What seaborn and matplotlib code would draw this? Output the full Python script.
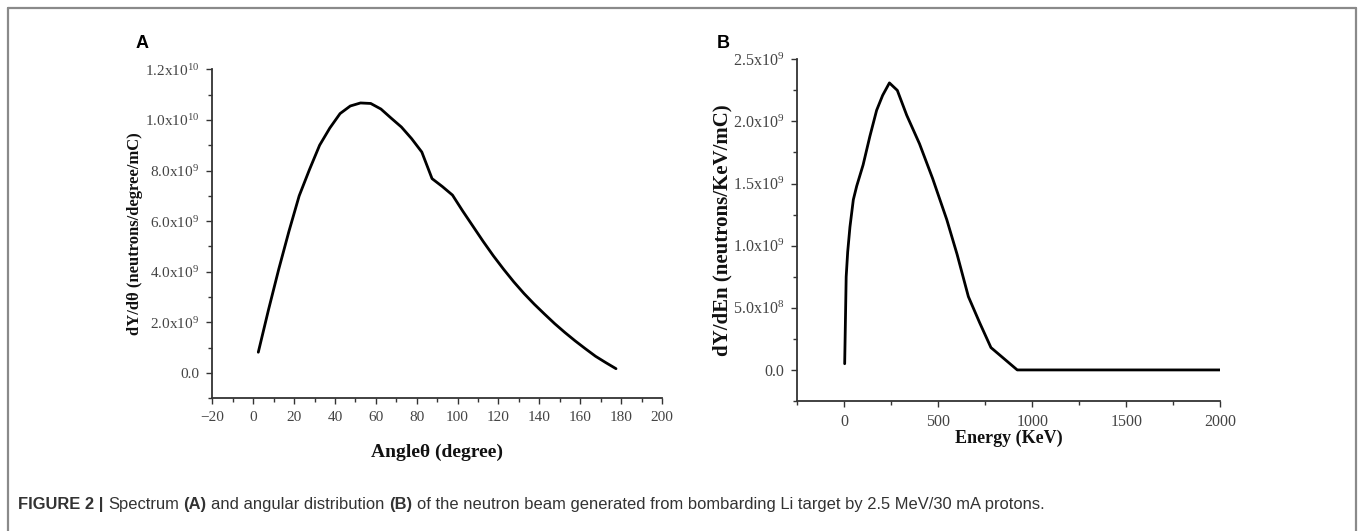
import numpy as np
import pandas as pd
import matplotlib
matplotlib.use("Agg")
import matplotlib.pyplot as plt
import seaborn as sns
from matplotlib import font_manager
from matplotlib.ticker import FixedLocator, MultipleLocator

# ---------------- data ----------------
angle_deg = [2.5, 7.5, 12.5, 17.5, 22.5, 27.5, 32.5, 37.5, 42.5, 47.5, 52.5, 57.5,
             62.5, 67.5, 72.5, 77.5, 82.5, 87.5, 92.5, 97.5, 102.5, 107.5, 112.5,
             117.5, 122.5, 127.5, 132.5, 137.5, 142.5, 147.5, 152.5, 157.5, 162.5,
             167.5, 172.5, 177.5]
angle_yield = [0.82e9, 2.5e9, 4.1e9, 5.6e9, 7.0e9, 8.03e9, 9.0e9, 9.68e9, 10.25e9,
               10.55e9, 10.67e9, 10.65e9, 10.43e9, 10.07e9, 9.72e9, 9.26e9, 8.73e9,
               7.68e9, 7.37e9, 7.03e9, 6.40e9, 5.80e9, 5.20e9, 4.63e9, 4.10e9,
               3.60e9, 3.14e9, 2.72e9, 2.33e9, 1.95e9, 1.60e9, 1.27e9, 0.96e9,
               0.66e9, 0.41e9, 0.17e9]

energy_kev = [2, 10, 18, 30, 48, 66, 100, 136, 172, 204, 240, 282, 332, 400, 470,
              545, 600, 660, 720, 780, 920, 1000, 1500, 2000]
energy_yield = [0.05e9, 0.75e9, 0.95e9, 1.15e9, 1.37e9, 1.48e9, 1.65e9, 1.88e9,
                2.09e9, 2.21e9, 2.31e9, 2.25e9, 2.05e9, 1.82e9, 1.54e9, 1.21e9,
                0.93e9, 0.59e9, 0.38e9, 0.18e9, 0.0, 0.0, 0.0, 0.0]

a_xticks = [-20, 0, 20, 40, 60, 80, 100, 120, 140, 160, 180, 200]
a_yticks = [0.0, 2e9, 4e9, 6e9, 8e9, 1e10, 1.2e10]
a_yticklabels = ["0.0", r"2.0x10$^{9}$", r"4.0x10$^{9}$", r"6.0x10$^{9}$",
                 r"8.0x10$^{9}$", r"1.0x10$^{10}$", r"1.2x10$^{10}$"]
b_xticks = [0, 500, 1000, 1500, 2000]
b_yticks = [0.0, 5e8, 1e9, 1.5e9, 2e9, 2.5e9]
b_yticklabels = ["0.0", r"5.0x10$^{8}$", r"1.0x10$^{9}$", r"1.5x10$^{9}$",
                 r"2.0x10$^{9}$", r"2.5x10$^{9}$"]

caption_parts = [("FIGURE 2 |", "bold"), ("Spectrum", "normal"), ("(A)", "bold"),
                 ("and angular distribution", "normal"), ("(B)", "bold"),
                 ("of the neutron beam generated from bombarding Li target by 2.5 MeV/30 mA protons.", "normal")]

# ---------------- style ----------------
sns.set_theme(style="ticks")
names = {f.name for f in font_manager.fontManager.ttflist}
serif = "Liberation Serif" if "Liberation Serif" in names else "DejaVu Serif"
cap_font = "Liberation Sans Narrow" if "Liberation Sans Narrow" in names else "Liberation Sans"
plt.rcParams["font.family"] = [serif, "DejaVu Sans"]
plt.rcParams["mathtext.fontset"] = "custom"
plt.rcParams["mathtext.rm"] = serif
plt.rcParams["mathtext.it"] = serif + ":italic"
plt.rcParams["mathtext.bf"] = serif + ":bold"

W, H = 1360, 531
fig = plt.figure(figsize=(W / 100, H / 100), dpi=100)
fig.patch.set_facecolor("white")

def px_axes(l, t, r, b):
    return fig.add_axes([l / W, 1 - b / H, (r - l) / W, (b - t) / H])

axA = px_axes(212.3, 69.3, 662.0, 398.3)
axB = px_axes(797.3, 59.3, 1220.3, 401.0)

dfA = pd.DataFrame({"angle": angle_deg, "y": angle_yield})
dfB = pd.DataFrame({"energy": energy_kev, "y": energy_yield})
sns.lineplot(data=dfA, x="angle", y="y", ax=axA, color="black", lw=2.0, sort=False)
sns.lineplot(data=dfB, x="energy", y="y", ax=axB, color="black", lw=2.0, sort=False)

spine_col = "#333333"
tick_col = "#444444"
for ax, ls in ((axA, 11), (axB, 11.5)):
    sns.despine(ax=ax)
    for s in ("left", "bottom"):
        ax.spines[s].set_color(spine_col)
        ax.spines[s].set_linewidth(1.3)
    ax.tick_params(which="major", direction="out", length=4.5, width=1.0,
                   color=spine_col, labelsize=ls, labelcolor=tick_col, pad=5)
    ax.tick_params(which="minor", direction="out", length=3, width=1.0, color=spine_col)
    ax.set_facecolor("white")
    ax.grid(False)

axA.set_xlim(-20, 200)
axA.set_ylim(-1e9, 1.2e10)
axA.xaxis.set_major_locator(FixedLocator(a_xticks))
axA.set_xticklabels([str(t) if t >= 0 else "\u221220" for t in a_xticks])
axA.xaxis.set_minor_locator(MultipleLocator(10))
axA.yaxis.set_major_locator(FixedLocator(a_yticks))
axA.set_yticklabels(a_yticklabels)
axA.yaxis.set_minor_locator(MultipleLocator(1e9))

axB.set_xlim(-250, 2000)
axB.set_ylim(-2.5e8, 2.5e9)
axB.xaxis.set_major_locator(FixedLocator(b_xticks))
axB.set_xticklabels([str(t) for t in b_xticks])
axB.xaxis.set_minor_locator(MultipleLocator(250))
axB.yaxis.set_major_locator(FixedLocator(b_yticks))
axB.set_yticklabels(b_yticklabels)
axB.yaxis.set_minor_locator(MultipleLocator(2.5e8))

lab_kw = dict(fontweight="bold", color="#111111")
axA.set_xlabel("Angle\u03b8 (degree)", fontsize=14, **lab_kw)
axA.set_ylabel("dY/d\u03b8 (neutrons/degree/mC)", fontsize=12, **lab_kw)
axB.set_xlabel("Energy (KeV)", fontsize=13, **lab_kw)
axB.set_ylabel("dY/dEn (neutrons/KeV/mC)", fontsize=15, **lab_kw)
for ax in (axA, axB):
    ax.xaxis.label.set_va("center")
    ax.yaxis.label.set_va("center")
axA.xaxis.set_label_coords(0.5, -0.163)
axA.yaxis.set_label_coords(-0.172, 0.5)
axB.xaxis.set_label_coords(0.5, -0.108)
axB.yaxis.set_label_coords(-0.178, 0.5)

# panel letters
fig.text(136 / W, 1 - 43.5 / H, "A", fontsize=13, fontweight="bold",
         family="Liberation Sans", va="center", ha="left", color="black")
fig.text(717 / W, 1 - 43.5 / H, "B", fontsize=13, fontweight="bold",
         family="Liberation Sans", va="center", ha="left", color="black")

# frame (open at the bottom)
frame_col = "#8a8a8a"
fig.add_artist(plt.Line2D([7.5 / W, 7.5 / W], [0, 1 - 8 / H], transform=fig.transFigure,
                          color=frame_col, lw=1.6))
fig.add_artist(plt.Line2D([7.5 / W, 1356 / W], [1 - 8 / H, 1 - 8 / H], transform=fig.transFigure,
                          color=frame_col, lw=1.6))
fig.add_artist(plt.Line2D([1356 / W, 1356 / W], [0, 1 - 8 / H], transform=fig.transFigure,
                          color=frame_col, lw=1.6))

# caption
fig.canvas.draw()
renderer = fig.canvas.get_renderer()
cap_size = 11.9
fam = [cap_font, "DejaVu Sans"]
probe1 = fig.text(0, 0, "a b", fontsize=cap_size, family=fam)
probe2 = fig.text(0, 0, "ab", fontsize=cap_size, family=fam)
space_w = (probe1.get_window_extent(renderer).width - probe2.get_window_extent(renderer).width)
probe1.remove()
probe2.remove()
x = 18
for txt, wt in caption_parts:
    t = fig.text(x / W, 1 - 504 / H, txt, fontsize=cap_size, fontweight=wt,
                 family=fam, color="#333333", va="center", ha="left")
    bb = t.get_window_extent(renderer=renderer)
    x += bb.width + space_w

fig.savefig("out.png", dpi=100, facecolor="white")
